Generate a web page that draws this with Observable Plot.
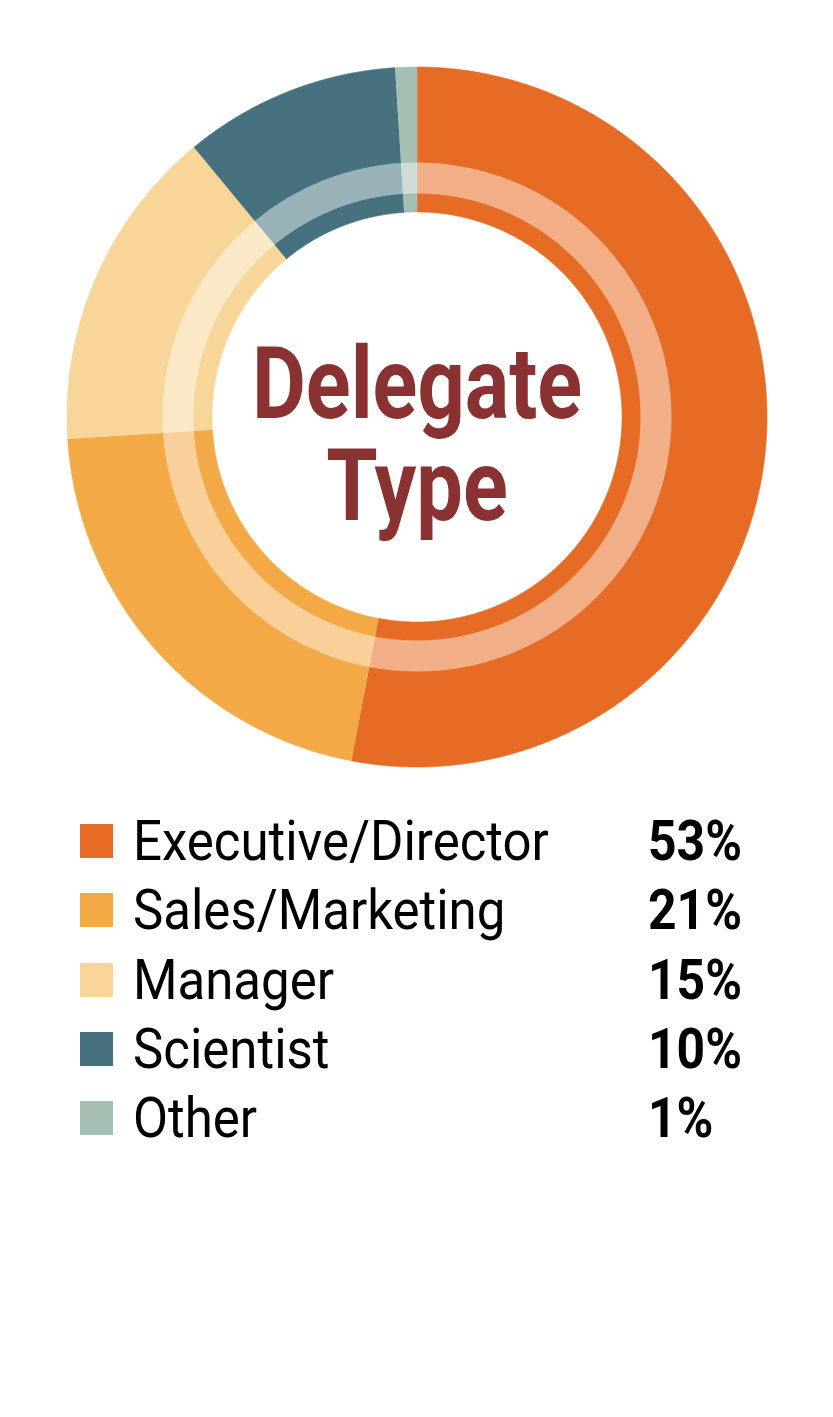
<!DOCTYPE html>
<html><head><meta charset="utf-8">
<script src="https://cdn.jsdelivr.net/npm/d3@7"></script>
<script src="https://cdn.jsdelivr.net/npm/@observablehq/plot@0.6"></script>
<style>
html,body{margin:0;padding:0;background:#fff;}
#wrap{position:relative;width:833px;height:1417px;overflow:hidden;font-family:Roboto,"Noto Sans",sans-serif;}
#chart svg{display:block;}
#legend{position:absolute;left:0;top:807px;width:833px;}
.row{position:relative;height:69.3px;line-height:69.3px;font-size:56px;color:#000;white-space:nowrap;}
.sw{position:absolute;left:80px;top:17px;width:33px;height:34px;}
.lab{position:absolute;left:133px;top:0;display:inline-block;transform:scaleX(0.91);transform-origin:0 50%;}
.pct{position:absolute;left:648px;top:0;display:inline-block;font-weight:700;transform:scaleX(0.89);transform-origin:0 50%;}
</style></head><body><div id="wrap"><div id="chart"></div><div id="legend"></div></div>
<script>
const categories = ["Executive/Director", "Sales/Marketing", "Manager", "Scientist", "Other"];
const shares = [53, 21, 15, 10, 1];
const colors = ["#E66C25", "#F4A947", "#F8D598", "#45727E", "#A5C0B2"];
const percentLabels = ["53%", "21%", "15%", "10%", "1%"];
const titleLines = ["Delegate", "Type"];

const R_OUT = 350, R_IN = 205, BAND_R = 239, BAND_W = 31;
const W = 833, H = 800, CX = 416.5, CY = 416.5;

const slices = d3.pie().sort(null).value(d => d.share)(
  categories.map((c, i) => ({category: c, share: shares[i]}))
);
const pts = [];
for (const s of slices) {
  const span = s.endAngle - s.startAngle;
  const n = Math.max(2, Math.ceil(span / (Math.PI / 720)));
  for (let k = 0; k <= n; k++) {
    const a = s.startAngle + span * k / n;
    pts.push({category: s.data.category, x: R_OUT * Math.sin(a), y: R_OUT * Math.cos(a)});
  }
  for (let k = n; k >= 0; k--) {
    const a = s.startAngle + span * k / n;
    pts.push({category: s.data.category, x: R_IN * Math.sin(a), y: R_IN * Math.cos(a)});
  }
}

const plot = Plot.plot({
  width: W, height: H, margin: 0,
  style: {background: "#fff", fontFamily: "Roboto"},
  x: {domain: [-CX, W - CX], axis: null},
  y: {domain: [CY - H, CY], axis: null},
  color: {domain: categories, range: colors},
  marks: [
    Plot.line(pts, {x: "x", y: "y", z: "category", fill: "category", stroke: "category", strokeWidth: 0.6}),
    Plot.dot([0], {x: 0, y: 0, r: BAND_R, fill: "none", stroke: "white", strokeWidth: BAND_W, strokeOpacity: 0.45}),
    Plot.text([titleLines.join("\n")], {x: 0, y: -102, dy: 0.5, text: d => d, lineAnchor: "bottom", lineHeight: 1.02,
      textAnchor: "middle", fill: "#8A3132", fontSize: 100, fontWeight: 700, fontFamily: "Roboto"})
  ]
});
document.getElementById("chart").appendChild(plot);

const titleStretch = 0.83;
plot.querySelectorAll("text").forEach(t => {
  if (t.textContent.startsWith(titleLines[0])) {
    const b = t.getBBox();
    const cx = b.x + b.width / 2;
    const tr = t.getAttribute("transform") || "";
    t.setAttribute("transform", `${tr} translate(${cx},0) scale(${titleStretch},1) translate(${-cx},0)`);
  }
});

const legend = document.getElementById("legend");
categories.forEach((c, i) => {
  const row = document.createElement("div");
  row.className = "row";
  const sw = document.createElement("div");
  sw.className = "sw"; sw.style.background = colors[i];
  const lab = document.createElement("span");
  lab.className = "lab"; lab.textContent = c;
  const pct = document.createElement("span");
  pct.className = "pct"; pct.textContent = percentLabels[i];
  row.append(sw, lab, pct);
  legend.appendChild(row);
});
</script></body></html>
